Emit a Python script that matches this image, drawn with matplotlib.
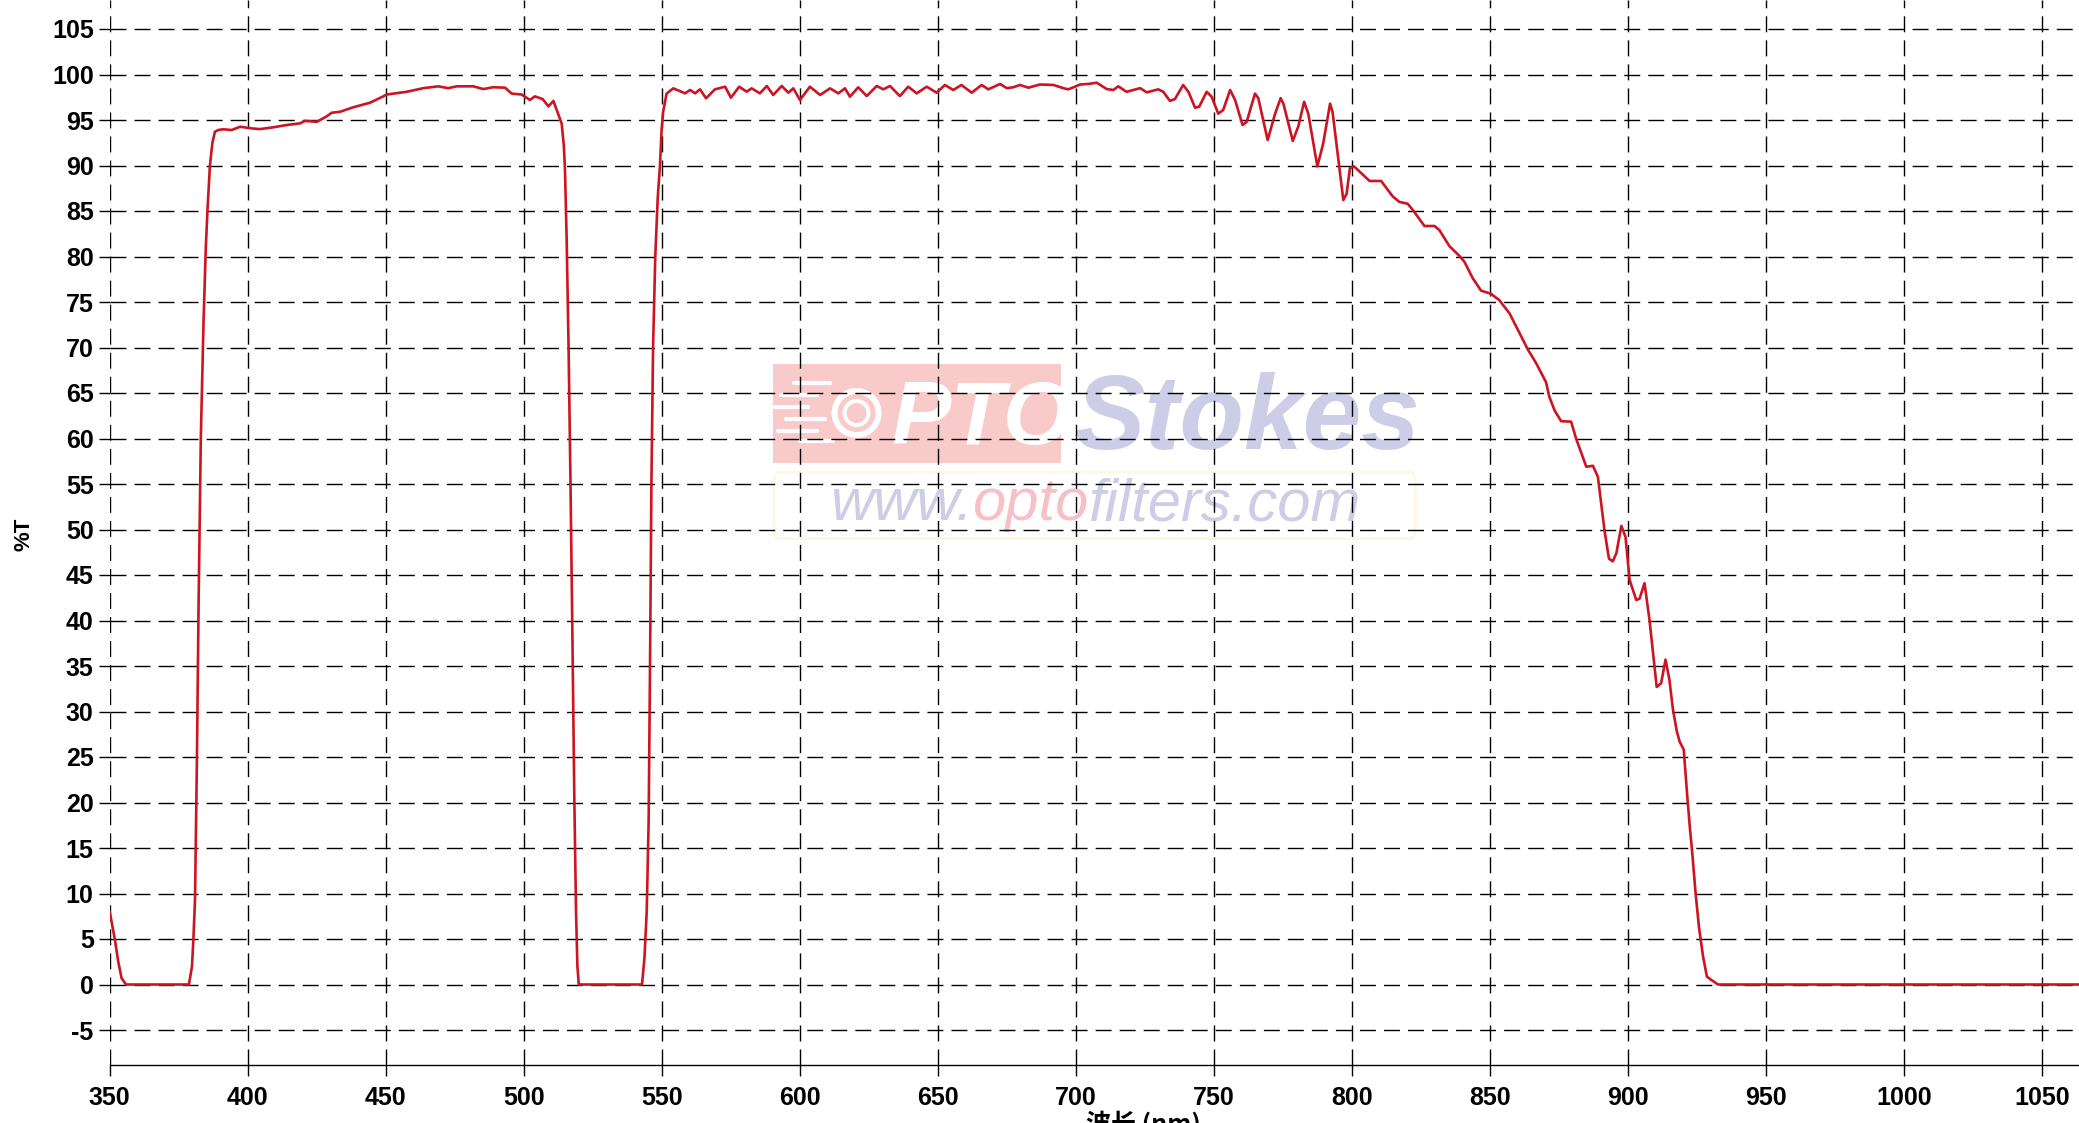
import matplotlib
matplotlib.use("Agg")
import matplotlib.pyplot as plt
from matplotlib.patches import Rectangle, Ellipse, FancyBboxPatch

plt.rcParams['font.family'] = ['Liberation Sans', 'DejaVu Sans']
plt.rcParams['axes.unicode_minus'] = False

# ---------------- data ----------------
wavelength = [
    350.0, 351.0, 351.9, 353.1, 354.3, 355.9, 378.7, 379.8, 380.3, 380.9,
    381.6, 382.2, 383.0, 384.0, 384.8, 385.4, 386.3, 387.2, 388.1, 389.3,
    391.1, 394.2, 397.2, 401.4, 404.4, 409.3, 414.1, 418.9, 420.7, 425.0,
    428.6, 430.4, 433.4, 438.2, 444.3, 449.1, 450.3, 457.6, 463.6, 469.0,
    472.6, 475.7, 481.7, 485.3, 488.9, 493.2, 495.6, 499.2, 502.2, 504.0,
    506.8, 508.9, 510.7, 511.9, 513.7, 514.5, 514.9,
    515.5, 516.2, 516.9, 517.6, 518.3, 518.9, 519.4, 519.9, 542.8, 543.7,
    544.5, 545.2, 545.7, 546.2, 546.8, 547.6, 548.5, 549.3, 549.9, 550.5,
    551.7, 554.1,
    558.4, 560.2, 562.0, 563.8, 566.0, 569.2, 572.9, 575.0, 578.0, 580.7,
    582.5, 585.5, 588.0, 590.3, 593.4, 595.8, 597.6, 600.0, 603.6, 607.3,
    610.9, 613.9, 616.3, 618.1, 621.1, 624.2, 627.8, 630.2, 632.6, 636.2,
    639.2, 642.3, 645.9, 649.5, 652.5, 655.5, 658.5, 662.2, 665.8, 668.2,
    672.5, 674.9, 677.3, 679.7, 682.7, 686.9, 691.8, 695.4, 697.2, 699.6,
    701.4, 704.4, 707.5, 711.1, 713.5, 715.3, 718.3, 720.7, 723.2, 725.6,
    729.8, 731.6, 734.0, 735.8, 738.8, 740.7, 743.1, 744.6, 747.3, 749.1,
    751.5, 753.3, 755.8, 757.6, 760.3, 761.8, 764.8, 766.0, 769.4, 772.1,
    774.1, 775.1, 778.5, 780.5, 782.6, 784.1, 787.4, 789.5, 792.0, 792.9,
    796.8, 798.0, 799.2, 800.7,
    806.3, 810.5, 814.7, 817.1, 820.1, 822.0, 826.2, 829.8, 831.6, 835.2,
    838.9, 840.7, 843.7, 846.7, 850.3, 853.3, 857.0, 860.6, 863.6, 866.6,
    870.2, 871.4, 873.3, 875.7, 879.3,
    881.1, 884.8, 887.2, 889.0, 891.4, 893.0, 894.4, 895.7, 897.5, 899.0,
    900.5, 902.9, 904.1, 905.9, 907.7, 910.3, 911.9, 913.5, 914.9,
    916.2, 917.6, 918.6, 920.1, 921.3, 922.3, 923.2, 924.4, 925.6, 927.1,
    928.5, 930.1, 932.5, 1065.0,
]
transmittance = [
    8.0, 6.4, 4.9, 2.5, 0.7, 0.0, 0.0, 2.0, 4.9, 9.3,
    25.0, 42.0, 60.0, 73.0, 80.9, 85.0, 90.0, 92.5, 93.7, 93.9,
    93.98, 93.9, 94.26, 94.08, 94.0, 94.2, 94.45, 94.63, 94.9, 94.8,
    95.4, 95.8, 95.9, 96.4, 96.9, 97.6, 97.8, 98.1, 98.5, 98.7,
    98.5, 98.7, 98.7, 98.4, 98.6, 98.55, 97.9, 97.8, 97.2, 97.6,
    97.3, 96.5, 97.1, 96.1, 94.6, 92.1, 89.5,
    82.0, 70.0, 55.0, 38.0, 20.0, 8.0, 2.0, 0.0, 0.0, 3.0,
    8.0, 18.0, 35.0, 55.0, 70.0, 80.0, 86.5, 90.0, 94.0, 96.0,
    97.9, 98.48,
    97.93, 98.3, 97.93, 98.37, 97.38, 98.37, 98.66, 97.45, 98.66, 98.11,
    98.48, 97.93, 98.74, 97.75, 98.74, 98.0, 98.48, 97.2, 98.66, 97.75,
    98.48, 97.93, 98.48, 97.56, 98.59, 97.63, 98.74, 98.37, 98.74, 97.63,
    98.66, 97.93, 98.66, 98.0, 98.85, 98.3, 98.85, 98.0, 98.85, 98.37,
    98.96, 98.5, 98.6, 98.85, 98.55, 98.9, 98.85, 98.5, 98.37, 98.66,
    98.9, 98.96, 99.1, 98.4, 98.3, 98.7, 98.1, 98.3, 98.5, 98.04,
    98.37, 98.1, 97.1, 97.3, 98.85, 98.1, 96.35, 96.46, 98.1, 97.56,
    95.7, 96.1, 98.3, 97.2, 94.45, 94.8, 97.9, 97.4, 92.8, 95.7,
    97.4, 96.8, 92.7, 94.3, 97.0, 95.7, 89.9, 92.4, 96.8, 95.9,
    86.2, 86.9, 89.7, 89.9,
    88.3, 88.3, 86.6, 86.0, 85.8, 85.1, 83.35, 83.35, 82.9, 81.15,
    80.05, 79.4, 77.6, 76.25, 75.9, 75.2, 73.75, 71.6, 69.8, 68.3,
    66.2, 64.6, 63.1, 61.9, 61.85,
    60.0, 56.9, 57.0, 55.8, 49.9, 46.8, 46.5, 47.4, 50.4, 49.2,
    44.45, 42.25, 42.4, 44.1, 40.05, 32.7, 33.1, 35.7, 33.5,
    30.2, 27.8, 26.7, 25.8, 21.0, 17.3, 14.4, 10.0, 6.35, 3.05,
    0.86, 0.5, 0.0, 0.0,
]
x_ticks = list(range(350, 1051, 50))
y_ticks = list(range(-5, 106, 5))
x_label = "波长 (nm)"
y_label = "%T"

# ---------------- figure ----------------
W, H = 2079, 1123
fig = plt.figure(figsize=(W / 100, H / 100), dpi=100)
left_px, bottom_px = 109.7, 1065.0
ax = fig.add_axes([left_px / W, (H - bottom_px) / H, (W - left_px) / W, bottom_px / H])

px_per_nm = 2.761
px_per_T = 9.1
ax.set_xlim(350, 350 + (W - left_px) / px_per_nm)
ax.set_ylim(-(bottom_px - 984.5) / px_per_T, 984.5 / px_per_T)

ax.plot(wavelength, transmittance, color='#CC1422', linewidth=1.9, zorder=3,
        solid_joinstyle='round')

ax.set_xticks(x_ticks)
ax.set_yticks(y_ticks)
ax.tick_params(axis='both', direction='out', length=8, width=1.0, color='black',
               labelsize=18)
ax.tick_params(axis='x', pad=7)
ax.tick_params(axis='y', pad=3.5)
for lab in ax.get_xticklabels() + ax.get_yticklabels():
    lab.set_fontweight('bold')

for s in ('top', 'right', 'left'):
    ax.spines[s].set_visible(False)
ax.spines['bottom'].set_linewidth(1.0)
ax.set_axisbelow(True)
ax.grid(True, color='black', linewidth=1.0, linestyle=(0, (11.5, 5.8)))

# ---------------- watermark ----------------
def rx(px):
    return px / px_per_nm


def ry(px):
    return px / px_per_T


rect_col = '#F9CACA'
ax.add_patch(Rectangle((590.2, 57.3), 104.5, 10.9, facecolor=rect_col,
                       edgecolor='none', zorder=0.2))
cx, cy = 620.5, 62.8
for r, col in ((25, 'white'), (19, rect_col), (14, 'white'), (10, rect_col)):
    ax.add_patch(Ellipse((cx, cy), 2 * rx(r), 2 * ry(r), facecolor=col,
                         edgecolor='none', zorder=0.25))
speed_lines = [(598, 611, 66.1), (593, 606, 64.8), (591, 603, 63.5),
               (595, 609, 62.1), (592, 606, 60.8), (600, 612, 59.7)]
for a, b, t in speed_lines:
    ax.plot([a, b], [t, t], color='white', lw=3, solid_capstyle='round', zorder=0.25)
ax.text(633.0, 59.4, 'PTO', color='white', fontsize=64, fontweight='bold',
        fontstyle='italic', ha='left', va='baseline', zorder=0.3)
ax.text(699.5, 58.8, 'Stokes', color='#CDCDE7', fontsize=76, fontweight='bold',
        fontstyle='italic', ha='left', va='baseline', zorder=0.3)

ax.add_patch(FancyBboxPatch((590.6, 49.0), 232.3, 7.3,
                            boxstyle='round,pad=0,rounding_size=1.5',
                            facecolor='none', edgecolor='#FFF8E0', lw=2, zorder=0.2))
lav = '#CDCDE8'
pink = '#F7C0C6'
t1 = ax.text(610.8, 51.0, 'www.', color=lav, fontsize=43, fontstyle='italic',
             ha='left', va='baseline', zorder=0.3)
t2 = ax.annotate('opto', xy=(1, 0), xycoords=t1, color=pink, fontsize=43,
                 fontstyle='italic', ha='left', va='bottom', zorder=0.3)
t3 = ax.annotate('filters.com', xy=(1, 0), xycoords=t2, color=lav, fontsize=43,
                 fontstyle='italic', ha='left', va='bottom', zorder=0.3)

# ---------------- labels ----------------
fig.text(1143 / W, (H - 1111) / H, x_label, ha='center', va='top', fontsize=18,
         fontweight='bold', family=['Noto Sans CJK SC', 'DejaVu Sans'])
fig.text(24 / W, 1 - 534 / H, y_label, ha='center', va='center', rotation=90,
         fontsize=16, fontweight='bold')

fig.savefig('out.png', dpi=100)
